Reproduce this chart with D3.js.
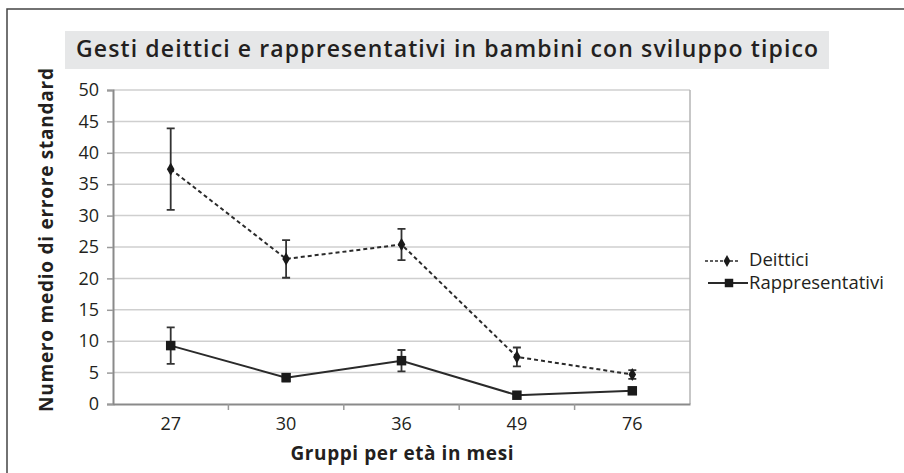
<!DOCTYPE html>
<html>
<head>
<meta charset="utf-8">
<script src="https://cdn.jsdelivr.net/npm/d3@7"></script>
<style>
  body { margin: 0; background: #fff; }
  svg { display: block; font-family: "Open Sans", sans-serif; }
</style>
</head>
<body>
<div class="chart"></div>
<script>
const groups = ["27", "30", "36", "49", "76"];
const deittici = [37.4, 23.1, 25.4, 7.5, 4.7];
const deitticiErr = [6.5, 3.0, 2.5, 1.5, 0.7];
const rappresentativi = [9.3, 4.2, 6.9, 1.4, 2.1];
const rappresentativiErr = [2.9, 0.6, 1.7, 0.3, 0.5];
const yTicks = [0, 5, 10, 15, 20, 25, 30, 35, 40, 45, 50];

const svg = d3.select(".chart")
    .append("svg")
        .attr("width", 904)
        .attr("height", 473);

// outer frame (top and left edges only are visible)
svg.append("path")
    .attr("d", "M7,473 V9 H904")
    .attr("fill", "none")
    .attr("stroke", "#444")
    .attr("stroke-width", 1.5);

// title box
svg.append("rect")
    .attr("x", 65).attr("y", 31)
    .attr("width", 764).attr("height", 38)
    .attr("fill", "#e6e7e8");
svg.append("text")
    .attr("x", 447).attr("y", 57)
    .attr("text-anchor", "middle")
    .attr("font-size", 23)
    .attr("font-weight", 600)
    .attr("fill", "#231f20")
    .attr("textLength", 742)
    .attr("lengthAdjust", "spacing")
    .text("Gesti deittici e rappresentativi in bambini con sviluppo tipico");

const plotL = 113, plotR = 690, plotT = 90, plotB = 404;

const x = d3.scaleBand().domain(groups).range([plotL, plotR]);
const y = d3.scaleLinear().domain([0, 50]).range([plotB, plotT]);

// gridlines
svg.append("g")
    .selectAll("line")
    .data(yTicks.filter(d => d > 0))
    .join("line")
        .attr("x1", plotL).attr("x2", plotR)
        .attr("y1", d => y(d)).attr("y2", d => y(d))
        .attr("stroke", "#cfcfcf")
        .attr("stroke-width", 1.5);

// plot border (right)
svg.append("line")
    .attr("x1", plotR).attr("x2", plotR)
    .attr("y1", plotT).attr("y2", plotB)
    .attr("stroke", "#b5b5b5").attr("stroke-width", 1.5);

// y axis
const yAxis = svg.append("g")
    .attr("transform", `translate(${plotL},0)`)
    .call(d3.axisLeft(y).tickValues(yTicks).tickSize(6).tickPadding(8));
yAxis.select(".domain").attr("stroke", "#8a8a8a").attr("stroke-width", 2);
yAxis.selectAll(".tick line").attr("stroke", "#9a9a9a").attr("stroke-width", 1.5);
yAxis.selectAll(".tick text")
    .attr("font-size", 18)
    .attr("font-family", "Open Sans, sans-serif")
    .attr("fill", "#231f20");

// x axis
const xAxis = svg.append("g")
    .attr("transform", `translate(0,${plotB})`)
    .call(d3.axisBottom(x).tickSize(0).tickPadding(13));
xAxis.select(".domain").attr("stroke", "#8a8a8a").attr("stroke-width", 2);
xAxis.selectAll(".tick text")
    .attr("font-size", 18)
    .attr("font-family", "Open Sans, sans-serif")
    .attr("fill", "#231f20");
// tick marks between categories
svg.append("g")
    .selectAll("line")
    .data(groups.slice(1))
    .join("line")
        .attr("x1", d => x(d)).attr("x2", d => x(d))
        .attr("y1", plotB).attr("y2", plotB + 6)
        .attr("stroke", "#9a9a9a").attr("stroke-width", 1.5);

// axis titles
svg.append("text")
    .attr("transform", "translate(53,240) rotate(-90)")
    .attr("text-anchor", "middle")
    .attr("font-size", 19)
    .attr("font-weight", 700)
    .attr("fill", "#231f20")
    .attr("textLength", 344)
    .attr("lengthAdjust", "spacing")
    .text("Numero medio di errore standard");
svg.append("text")
    .attr("x", 402).attr("y", 460)
    .attr("text-anchor", "middle")
    .attr("font-size", 19)
    .attr("font-weight", 700)
    .attr("fill", "#231f20")
    .attr("textLength", 223)
    .attr("lengthAdjust", "spacing")
    .text("Gruppi per età in mesi");

const cx = d => x(d) + x.bandwidth() / 2;
const line = d3.line().x(d => cx(d.g)).y(d => y(d.v));

const series = [
    { name: "Deittici", values: deittici, err: deitticiErr, dash: "4,3", shape: d3.symbolDiamond, size: 50 },
    { name: "Rappresentativi", values: rappresentativi, err: rappresentativiErr, dash: null, shape: d3.symbolSquare, size: 90 }
];

series.forEach(s => {
    const pts = groups.map((g, i) => ({ g: g, v: s.values[i], e: s.err[i] }));
    const g = svg.append("g");

    g.selectAll(".err")
        .data(pts)
        .join("path")
            .attr("d", d => {
                const px = cx(d.g), y0 = y(d.v - d.e), y1 = y(d.v + d.e);
                return `M${px},${y0}V${y1}M${px - 4},${y0}H${px + 4}M${px - 4},${y1}H${px + 4}`;
            })
            .attr("fill", "none")
            .attr("stroke", "#333")
            .attr("stroke-width", 1.8);

    g.append("path")
        .datum(pts)
        .attr("d", line)
        .attr("fill", "none")
        .attr("stroke", "#2a2a2a")
        .attr("stroke-width", 2)
        .attr("stroke-dasharray", s.dash);

    g.selectAll(".mark")
        .data(pts)
        .join("path")
            .attr("transform", d => `translate(${cx(d.g)},${y(d.v)})`)
            .attr("d", d3.symbol().type(s.shape).size(s.size))
            .attr("fill", "#1a1a1a");
});

// legend
const legendRows = [
    { y: 261, x1: 705, x2: 740, mx: 727, ty: 266 },
    { y: 283, x1: 708, x2: 748, mx: 729, ty: 289 }
];
const legend = svg.append("g")
    .selectAll("g")
    .data(series)
    .join("g")
        .attr("transform", (d, i) => `translate(0,${legendRows[i].y})`);
legend.append("line")
    .attr("x1", (d, i) => legendRows[i].x1).attr("x2", (d, i) => legendRows[i].x2)
    .attr("stroke", "#2a2a2a")
    .attr("stroke-width", d => d.dash ? 1.5 : 2)
    .attr("stroke-dasharray", d => d.dash ? "3,2" : null);
legend.append("path")
    .attr("transform", (d, i) => `translate(${legendRows[i].mx},0)`)
    .attr("d", d => d3.symbol().type(d.shape).size(d.size * 0.8)())
    .attr("fill", "#1a1a1a");
legend.append("text")
    .attr("x", 749).attr("y", (d, i) => legendRows[i].ty - legendRows[i].y)
    .attr("font-size", 18.5)
    .attr("fill", "#231f20")
    .text(d => d.name);
</script>
</body>
</html>
